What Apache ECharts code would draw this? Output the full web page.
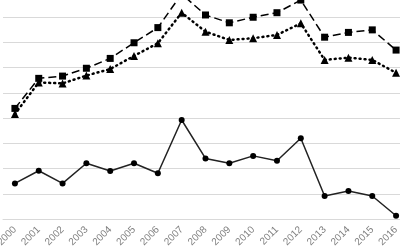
<!DOCTYPE html>
<html><head><meta charset="utf-8">
<script src="https://cdn.jsdelivr.net/npm/echarts@6/dist/echarts.min.js"></script>
<style>html,body{margin:0;padding:0;background:#fff}#c{width:400px;height:250px}</style>
</head><body><div id="c"></div>
<script>
const years = ['2000','2001','2002','2003','2004','2005','2006','2007','2008','2009','2010','2011','2012','2013','2014','2015','2016'];
const seriesSolid = [14.1,19.1,14.1,22.1,19.0,22.1,18.1,39.2,24.0,22.1,25.0,23.1,32.0,9.1,11.1,9.1,1.3];
const seriesDashed = [43.8,55.7,56.6,59.7,63.6,69.8,75.8,89.1,80.8,77.7,79.9,81.7,86.7,72.0,73.9,74.9,66.9];
const seriesDotted = [41.6,54.1,53.7,56.8,59.4,64.6,69.6,81.7,74.2,70.9,71.6,72.9,77.5,63.0,63.9,63.0,57.9];

const chart = echarts.init(document.getElementById('c'), null, {renderer:'canvas'});
chart.setOption({
  animation:false,
  grid:{left:3, top:-33.5, width:405, height:252.5, containLabel:false, outerBoundsMode:'none'},
  xAxis:{type:'category', data:years, boundaryGap:true,
    axisLine:{show:true, lineStyle:{color:'#d9d9d9', width:1}},
    axisTick:{show:false},
    axisLabel:{rotate:45, color:'#7f7f7f', fontSize:10, fontFamily:'Liberation Sans', margin:9, interval:0}},
  yAxis:{type:'value', min:0, max:100, interval:10,
    axisLine:{show:false}, axisTick:{show:false}, axisLabel:{show:false},
    splitLine:{lineStyle:{color:'#d9d9d9', width:1}}},
  series:[
    {type:'line', data:seriesDashed, clip:false, symbol:'rect', symbolSize:7,
      itemStyle:{color:'#000'}, lineStyle:{color:'#000', width:1.5, type:[8,4]}},
    {type:'line', data:seriesDotted, clip:false, symbol:'triangle', symbolSize:8,
      itemStyle:{color:'#000'}, lineStyle:{color:'#000', width:2.5, type:[1,4], cap:'round'}},
    {type:'line', data:seriesSolid, clip:false, symbol:'circle', symbolSize:6, showAllSymbol:true,
      itemStyle:{color:'#000'}, lineStyle:{color:'#222', width:1.5}}
  ]
});
</script></body></html>
